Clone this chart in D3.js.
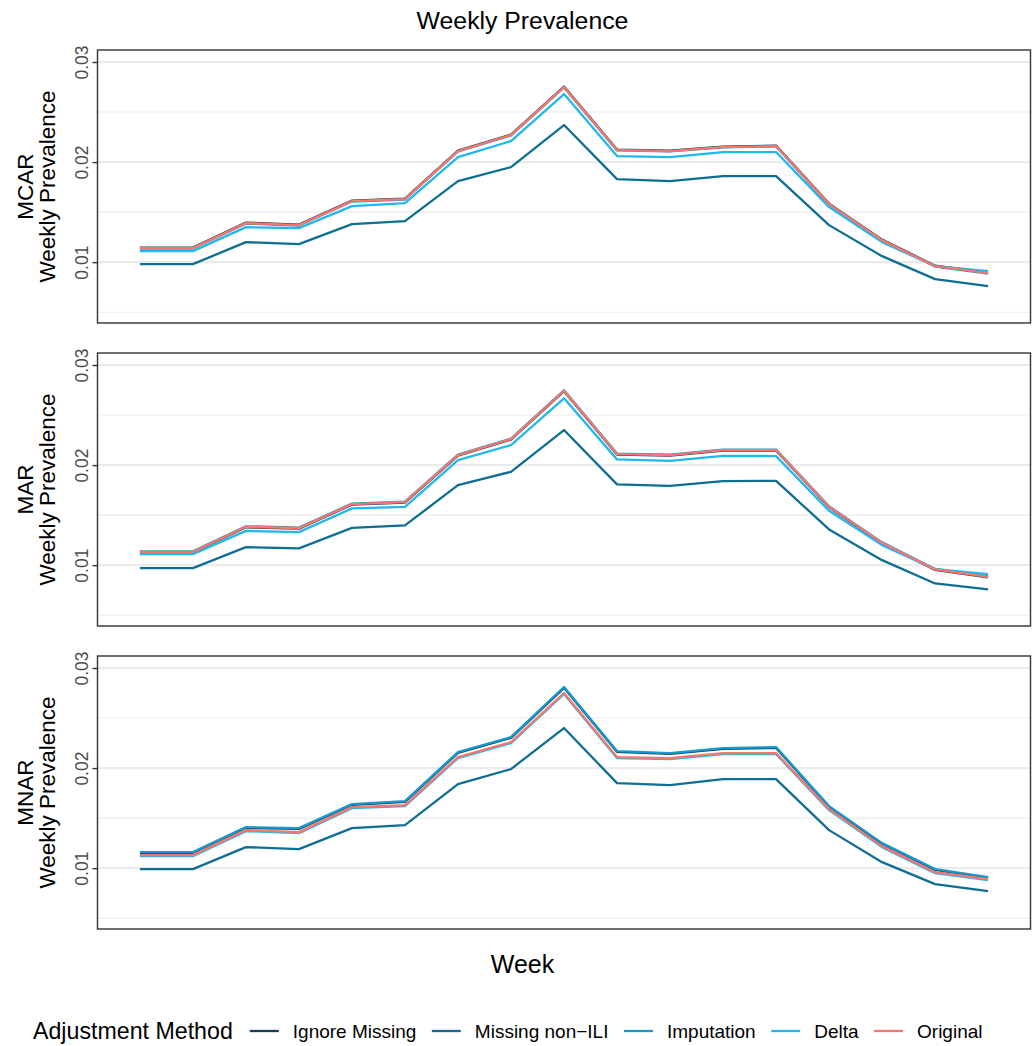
<!DOCTYPE html>
<html>
<head>
<meta charset="utf-8">
<script src="https://cdn.jsdelivr.net/npm/d3@7"></script>
<style>
  html, body { margin: 0; padding: 0; background: #ffffff; }
  svg { display: block; font-family: "Liberation Sans", Arial, Helvetica, sans-serif; }
</style>
</head>
<body>
<svg id="chart" width="1032" height="1046"></svg>
<script>
// Weekly prevalence estimates, by missingness mechanism and adjustment method
const weeks = [1, 2, 3, 4, 5, 6, 7, 8, 9, 10, 11, 12, 13, 14, 15, 16, 17];
const mechanisms = ["MCAR", "MAR", "MNAR"];
const methods = ["Ignore Missing", "Missing non\u2212ILI", "Imputation", "Delta", "Original"];
const methodColors = ["#173f50", "#0e6f93", "#149ace", "#20b8ee", "#f8766d"];
const yTicks = [0.01, 0.02, 0.03];
const yMinorTicks = [0.005, 0.015, 0.025];

// MCAR
const mcarIgnore   = [0.01145, 0.01145, 0.01395, 0.01375, 0.01615, 0.01635, 0.02115, 0.02275, 0.02755, 0.02125, 0.02115, 0.02155, 0.02165, 0.01585, 0.01225, 0.00965, 0.00895];
const mcarNonIli   = [0.0098, 0.0098, 0.0120, 0.0118, 0.0138, 0.0141, 0.0181, 0.0195, 0.0237, 0.0183, 0.0181, 0.0186, 0.0186, 0.0137, 0.0106, 0.0083, 0.0076];
const mcarImpute   = [0.01136, 0.01136, 0.01386, 0.01366, 0.01606, 0.01626, 0.02106, 0.02266, 0.02746, 0.02116, 0.02106, 0.02146, 0.02156, 0.01576, 0.01216, 0.00956, 0.00886];
const mcarDelta    = [0.0111, 0.0111, 0.0135, 0.0134, 0.0156, 0.0159, 0.0205, 0.0221, 0.0268, 0.0206, 0.0205, 0.0210, 0.0210, 0.0155, 0.0120, 0.0096, 0.0091];
const mcarOriginal = [0.0114, 0.0114, 0.0139, 0.0137, 0.0161, 0.0163, 0.0211, 0.0227, 0.0275, 0.0212, 0.0211, 0.0215, 0.0216, 0.0158, 0.0122, 0.0096, 0.0089];

// MAR
const marIgnore   = [0.01128, 0.01128, 0.01378, 0.01365, 0.01605, 0.01625, 0.02095, 0.02255, 0.02738, 0.02105, 0.02095, 0.02145, 0.02145, 0.01578, 0.01218, 0.00952, 0.00878];
const marNonIli   = [0.0097, 0.0097, 0.0118, 0.01167, 0.01373, 0.01397, 0.0180, 0.01933, 0.0235, 0.01807, 0.01793, 0.0184, 0.01843, 0.01357, 0.0105, 0.00817, 0.00757];
const marImpute   = [0.01138, 0.01138, 0.01388, 0.01375, 0.01615, 0.01635, 0.02105, 0.02265, 0.02748, 0.02115, 0.02105, 0.02155, 0.02155, 0.01588, 0.01228, 0.00962, 0.00888];
const marDelta    = [0.0111, 0.0111, 0.01343, 0.0133, 0.01567, 0.01583, 0.0205, 0.0220, 0.02667, 0.02057, 0.02043, 0.02093, 0.0209, 0.01543, 0.0120, 0.0096, 0.0091];
const marOriginal = [0.01133, 0.01133, 0.01383, 0.0137, 0.0161, 0.0163, 0.0210, 0.0226, 0.02743, 0.0211, 0.0210, 0.0215, 0.0215, 0.01583, 0.01223, 0.00957, 0.00883];

// MNAR
const mnarIgnore   = [0.01152, 0.01152, 0.01402, 0.01392, 0.01632, 0.01662, 0.02152, 0.02302, 0.02802, 0.02162, 0.02142, 0.02192, 0.02202, 0.01612, 0.01242, 0.00982, 0.00902];
const mnarNonIli   = [0.0099, 0.0099, 0.0121, 0.0119, 0.0140, 0.0143, 0.0184, 0.0199, 0.0240, 0.0185, 0.0183, 0.0189, 0.0189, 0.0138, 0.0106, 0.0084, 0.0077];
const mnarImpute   = [0.0116, 0.0116, 0.0141, 0.0140, 0.0164, 0.0167, 0.0216, 0.0231, 0.0281, 0.0217, 0.0215, 0.0220, 0.0221, 0.0162, 0.0125, 0.0099, 0.0091];
const mnarDelta    = [0.0112, 0.0112, 0.0137, 0.0135, 0.0160, 0.0162, 0.0210, 0.0225, 0.0274, 0.0210, 0.0209, 0.0214, 0.0214, 0.0158, 0.0121, 0.0095, 0.0088];
const mnarOriginal = [0.0113, 0.0113, 0.0138, 0.0136, 0.0161, 0.0163, 0.0211, 0.0226, 0.0275, 0.0211, 0.0210, 0.0215, 0.0215, 0.0159, 0.0122, 0.0096, 0.0089];

const panelSeries = [
  [mcarIgnore, mcarNonIli, mcarImpute, mcarDelta, mcarOriginal],
  [marIgnore, marNonIli, marImpute, marDelta, marOriginal],
  [mnarIgnore, mnarNonIli, mnarImpute, mnarDelta, mnarOriginal]
];

// Layout
const panelLeft = 97.5, panelRight = 1030.5;
const panelTops = [50, 353, 656];
const panelHeight = 273;
const yDomain = [0.00392, 0.0312];

const svg = d3.select("#chart");

// Shared x scale with a 5% expansion on either side of the week range
const xPad = (d3.max(weeks) - d3.min(weeks)) * 0.05;
const x = d3.scaleLinear()
  .domain([d3.min(weeks) - xPad, d3.max(weeks) + xPad])
  .range([panelLeft, panelRight]);

// Title
svg.append("text")
  .attr("x", 522.5).attr("y", 29)
  .attr("text-anchor", "middle")
  .attr("font-size", 24.8)
  .attr("fill", "#000")
  .text("Weekly Prevalence");

const line = d3.line().curve(d3.curveLinear);

mechanisms.forEach((mech, pi) => {
  const top = panelTops[pi];
  const y = d3.scaleLinear().domain(yDomain).range([top + panelHeight, top]);
  const g = svg.append("g");

  // panel background
  g.append("rect")
    .attr("x", panelLeft).attr("y", top)
    .attr("width", panelRight - panelLeft).attr("height", panelHeight)
    .attr("fill", "#fff");

  // minor gridlines
  g.selectAll("line.minor").data(yMinorTicks).join("line")
    .attr("class", "minor")
    .attr("x1", panelLeft).attr("x2", panelRight)
    .attr("y1", d => y(d)).attr("y2", d => y(d))
    .attr("stroke", "#ebebeb").attr("stroke-width", 1.1);

  // major gridlines
  g.selectAll("line.major").data(yTicks).join("line")
    .attr("class", "major")
    .attr("x1", panelLeft).attr("x2", panelRight)
    .attr("y1", d => y(d)).attr("y2", d => y(d))
    .attr("stroke", "#ebebeb").attr("stroke-width", 2.1);

  // series lines
  panelSeries[pi].forEach((vals, mi) => {
    g.append("path")
      .attr("d", line(weeks.map((w, i) => [x(w), y(vals[i])])))
      .attr("fill", "none")
      .attr("stroke", methodColors[mi])
      .attr("stroke-width", 2.3)
      .attr("stroke-linejoin", "round")
      .attr("stroke-linecap", "butt");
  });

  // panel border
  g.append("rect")
    .attr("x", panelLeft).attr("y", top)
    .attr("width", panelRight - panelLeft).attr("height", panelHeight)
    .attr("fill", "none")
    .attr("stroke", "#333333").attr("stroke-width", 1.4);

  // y axis: ticks and rotated labels
  const axis = d3.axisLeft(y).tickValues(yTicks).tickSize(5).tickPadding(0).tickFormat(d3.format(".2f"));
  const ag = g.append("g").attr("transform", `translate(${panelLeft},0)`).call(axis);
  ag.select(".domain").remove();
  ag.selectAll(".tick line").attr("stroke", "#333333").attr("stroke-width", 1.4);
  ag.selectAll(".tick text")
    .attr("x", null).attr("dy", null)
    .attr("transform", "translate(-10,0) rotate(-90)")
    .attr("text-anchor", "middle")
    .attr("font-size", 17.5)
    .attr("font-family", "Liberation Sans, Arial, sans-serif")
    .attr("fill", "#4d4d4d");

  // y axis title (two lines)
  const cy = top + panelHeight / 2;
  g.append("text")
    .attr("transform", `translate(33,${cy}) rotate(-90)`)
    .attr("text-anchor", "middle")
    .attr("font-size", 22.5)
    .attr("fill", "#000")
    .text(mech);
  g.append("text")
    .attr("transform", `translate(55,${cy}) rotate(-90)`)
    .attr("text-anchor", "middle")
    .attr("font-size", 22.5)
    .attr("fill", "#000")
    .text("Weekly Prevalence");
});

// x axis title
svg.append("text")
  .attr("x", 522.5).attr("y", 973)
  .attr("text-anchor", "middle")
  .attr("font-size", 25)
  .attr("fill", "#000")
  .text("Week");

// Legend
const legend = svg.append("g");
const legendY = 1031;
const legendTitle = legend.append("text")
  .attr("x", 33).attr("y", legendY + 8)
  .attr("font-size", 23.2)
  .attr("fill", "#000")
  .text("Adjustment Method");
let cursor = 33 + legendTitle.node().getComputedTextLength() + 17;
methods.forEach((m, i) => {
  legend.append("line")
    .attr("x1", cursor).attr("x2", cursor + 29)
    .attr("y1", legendY).attr("y2", legendY)
    .attr("stroke", methodColors[i]).attr("stroke-width", 2.3);
  const t = legend.append("text")
    .attr("x", cursor + 43).attr("y", legendY + 7)
    .attr("font-size", 19)
    .attr("fill", "#000")
    .text(m);
  cursor += 43 + t.node().getComputedTextLength() + 15.5;
});
</script>
</body>
</html>
